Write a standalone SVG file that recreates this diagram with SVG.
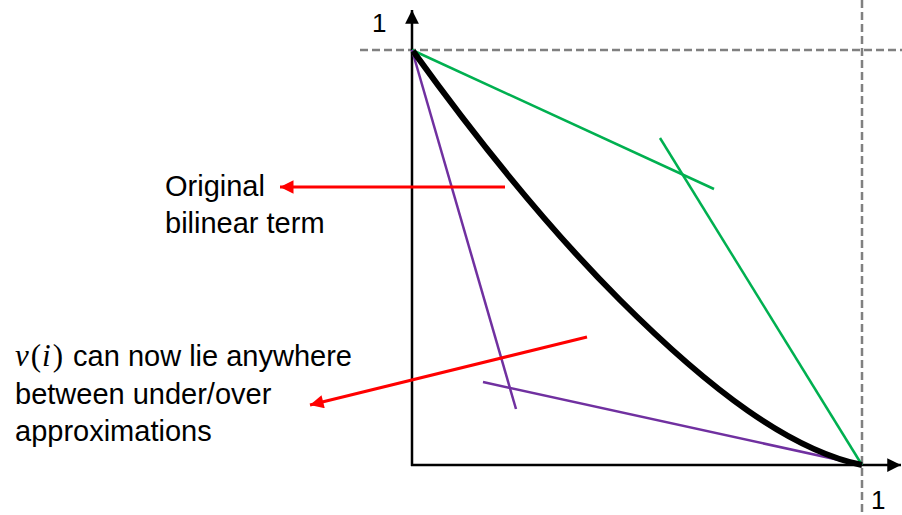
<svg xmlns="http://www.w3.org/2000/svg" width="902" height="515" viewBox="0 0 902 515">
<defs>
<style>
.t{font-family:"Liberation Sans",Arial,sans-serif;font-size:29px;fill:#000}
.n{font-family:"Liberation Sans",Arial,sans-serif;font-size:26px;fill:#000}
.m{font-family:"Liberation Serif","DejaVu Serif",serif;font-size:31px}
.dash{stroke:#808080;stroke-width:2.5;stroke-dasharray:8,4;fill:none}
.axis{stroke:#000;stroke-width:2.5;fill:none}
.g{stroke:#00b050;stroke-width:2.5;fill:none}
.p{stroke:#7030a0;stroke-width:2.5;fill:none}
.r{stroke:#ff0000;stroke-width:3;fill:none}
</style>
<marker id="ah" viewBox="0 0 10 10" refX="10" refY="5" markerWidth="6" markerHeight="5.5" orient="auto" markerUnits="strokeWidth"><path d="M0,0L10,5L0,10z" fill="#000"/></marker>
<marker id="rh" viewBox="0 0 10 10" refX="10" refY="5" markerWidth="5.5" markerHeight="4.5" orient="auto" markerUnits="strokeWidth"><path d="M0,0L10,5L0,10z" fill="#ff0000"/></marker>
</defs>
<g id="guides">
<line class="dash" x1="360" y1="50" x2="902" y2="50"/>
<line class="dash" x1="862" y1="0" x2="862" y2="515"/>
</g>
<g id="axes">
<line class="axis" x1="412" y1="466" x2="412" y2="10" marker-end="url(#ah)"/>
<line class="axis" x1="411" y1="465" x2="901" y2="465" marker-end="url(#ah)"/>
<text class="n" x="372" y="32">1</text>
<text class="n" x="871" y="509">1</text>
</g>
<g id="approximations">
<line class="g" x1="412" y1="50" x2="714" y2="189"/>
<line class="g" x1="660" y1="138" x2="862" y2="465"/>
<line class="p" x1="412" y1="50" x2="516" y2="409"/>
<line class="p" x1="483" y1="382" x2="862" y2="465"/>
</g>
<g id="curve">
<path d="M413,51 C470,130 540,220 620,300 C710,390 790,450 862,465" stroke="#000" stroke-width="6" fill="none"/>
</g>
<g id="connectors">
<line class="r" x1="505" y1="187" x2="280" y2="187" marker-end="url(#rh)"/>
<line class="r" x1="587" y1="337" x2="310" y2="405" marker-end="url(#rh)"/>
</g>
<g id="label-original">
<text class="t" x="165" y="196">Original</text>
<text class="t" x="165" y="233">bilinear term</text>
</g>
<g id="label-vi">
<text class="t" x="15" y="366"><tspan class="m" font-style="italic">ν</tspan><tspan class="m" dx="2">(</tspan><tspan class="m" font-style="italic" dx="1">i</tspan><tspan class="m" dx="2">)</tspan><tspan dx="2"> can now lie anywhere</tspan></text>
<text class="t" x="15" y="404">between under/over</text>
<text class="t" x="15" y="441">approximations</text>
</g>
</svg>
